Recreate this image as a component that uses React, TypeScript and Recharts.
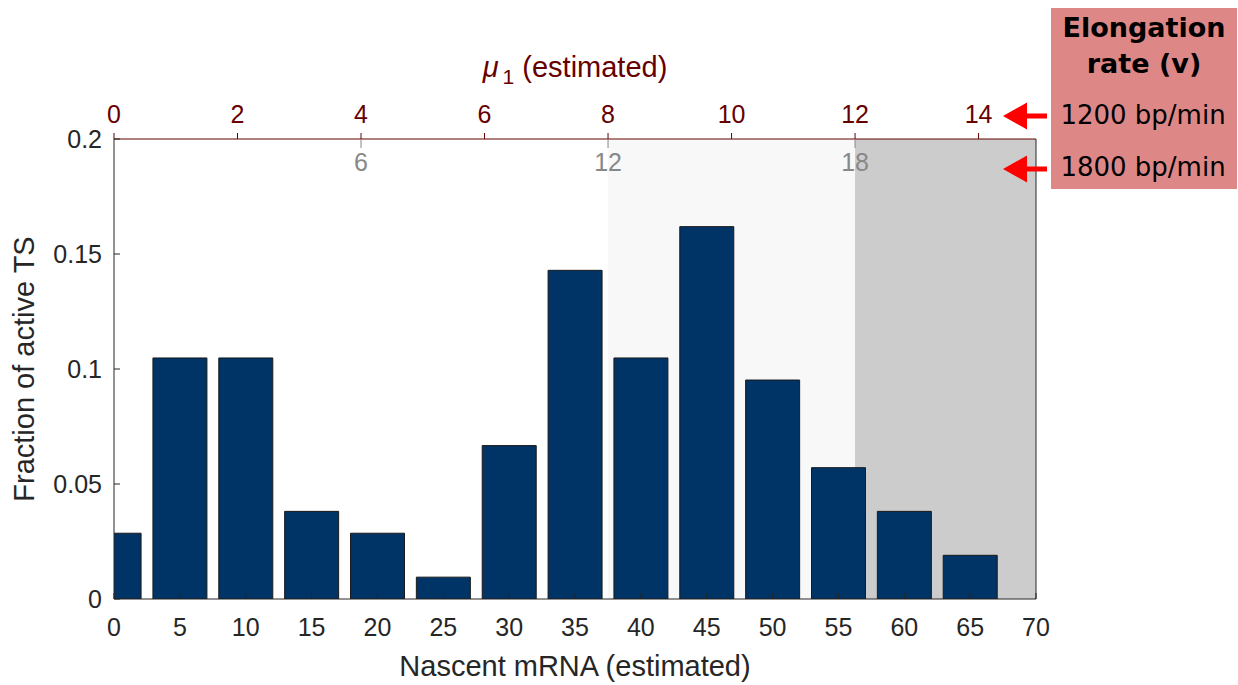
import React from 'react';
import { ComposedChart, Bar, XAxis, YAxis, ReferenceArea, ReferenceLine } from 'recharts';

// nascent mRNA bins (bar centres) and fraction of active TS in each
const nascentBins = [0, 5, 10, 15, 20, 25, 30, 35, 40, 45, 50, 55, 60, 65, 70];
const fractionTS = [0.0286, 0.1048, 0.1048, 0.0381, 0.0286, 0.0095, 0.0667, 0.1429, 0.1048, 0.1619, 0.0952, 0.0571, 0.0381, 0.019, 0];

const nascentTicks = [0, 5, 10, 15, 20, 25, 30, 35, 40, 45, 50, 55, 60, 65, 70];
const fractionTicks = [0, 0.05, 0.1, 0.15, 0.2];
const mu1Ticks = [0, 2, 4, 6, 8, 10, 12, 14];
const mu1At1800Ticks = [6, 12, 18];

// µ1 at the right end of the 0-70 nascent axis (1200 bp/min)
const MU1_MAX = 14.93;
// µ1 scales with elongation rate: 1800 / 1200
const RATE_RATIO = 1.5;

// shaded µ1 bands (light: 8-12, dark: 12 onwards)
const lightBand = [8, 12];
const darkBandStart = 12;

const DARK_RED = '#660000';
const AXIS_GREY = '#262626';
const TICK_GREY = '#888888';
const FS = 25;

const data = nascentBins.map((n, i) => ({ n, frac: fractionTS[i] }));

// top axis: µ1 ticks above the line, 1800 bp/min equivalents hanging below it
const MuTick = (props: any) => {
    const { x, y, payload } = props;
    const v = payload.value;
    const lineY = y + 16;
    const grey = mu1At1800Ticks.find((g) => Math.abs(g / RATE_RATIO - v) < 1e-6);
    if (!mu1Ticks.includes(v)) return <g />;
    return (
        <g>
            <line x1={x} y1={lineY} x2={x} y2={lineY - 6} stroke={DARK_RED} />
            <text x={x} y={y} textAnchor="middle" fill={DARK_RED} fontSize={FS}>{v}</text>
            {grey !== undefined && (
                <g>
                    <line x1={x} y1={lineY} x2={x} y2={lineY + 9} stroke={TICK_GREY} />
                    <text x={x} y={lineY + 32} textAnchor="middle" fill={TICK_GREY} fontSize={FS}>{grey}</text>
                </g>
            )}
        </g>
    );
};

const BottomTick = (props: any) => {
    const { x, y, payload } = props;
    const axisY = y - 19;
    return (
        <g>
            <line x1={x} y1={axisY} x2={x} y2={axisY - 6} stroke={AXIS_GREY} />
            <text x={x} y={y} dy="0.71em" textAnchor="middle" fill={AXIS_GREY} fontSize={FS}>{payload.value}</text>
        </g>
    );
};

const LeftTick = (props: any) => {
    const { x, y, payload } = props;
    const axisX = x + 12;
    return (
        <g>
            <line x1={axisX} y1={y} x2={axisX + 6} y2={y} stroke={AXIS_GREY} />
            <text x={x} y={y} dy="0.36em" textAnchor="end" fill={AXIS_GREY} fontSize={FS}>{String(payload.value)}</text>
        </g>
    );
};

const MuTitle = (props: any) => {
    const { x, y, width } = props.viewBox;
    return (
        <text x={x + width / 2} y={y + 57} textAnchor="middle" fill={DARK_RED} fontSize={29}>
            <tspan fontStyle="italic">μ</tspan>
            <tspan dx={4} dy={7} fontSize={21}>1</tspan>
            <tspan dy={-7}> (estimated)</tspan>
        </text>
    );
};

const XTitle = (props: any) => {
    const { x, y, width } = props.viewBox;
    return (
        <text x={x + width / 2} y={y + 77} textAnchor="middle" fill={AXIS_GREY} fontSize={29}>
            Nascent mRNA (estimated)
        </text>
    );
};

const YTitle = (props: any) => {
    const { x, y, height } = props.viewBox;
    const cx = x + 20;
    const cy = y + height / 2;
    return (
        <text x={cx} y={cy} transform={`rotate(-90 ${cx} ${cy})`} textAnchor="middle" fill={AXIS_GREY} fontSize={29}>
            Fraction of active TS
        </text>
    );
};

const Arrow = ({ y }: { y: number }) => (
    <g fill="#ff0000">
        <polygon points={`1003,${y} 1027,${y - 13.5} 1027,${y + 13.5}`} />
        <rect x={1025} y={y - 2.5} width={22} height={5} />
    </g>
);

export default function App() {
    return (
        <div style={{ position: 'absolute', left: 0, top: 0, width: 1238, height: 685, fontFamily: '"Liberation Sans", Arial, sans-serif', background: '#fff' }}>
            <ComposedChart width={1238} height={685} data={data} margin={{ top: 20, right: 202, bottom: 0, left: 14 }}>
                <XAxis
                    xAxisId="n"
                    dataKey="n"
                    type="number"
                    domain={[0, 70]}
                    ticks={nascentTicks}
                    allowDataOverflow
                    height={86}
                    tickSize={0}
                    tickMargin={19}
                    tickLine={false}
                    stroke={AXIS_GREY}
                    tick={BottomTick}
                    label={XTitle}
                />
                {/* no data column for µ1: the axis takes its range from the domain only */}
                <XAxis
                    xAxisId="mu"
                    dataKey="mu1"
                    orientation="top"
                    type="number"
                    domain={[0, MU1_MAX]}
                    ticks={[...mu1Ticks, MU1_MAX]}
                    allowDataOverflow
                    interval={0}
                    height={119}
                    tickSize={6}
                    tickMargin={10}
                    tickLine={false}
                    stroke={DARK_RED}
                    tick={MuTick}
                    label={MuTitle}
                />
                <YAxis
                    type="number"
                    domain={[0, 0.2]}
                    ticks={fractionTicks}
                    allowDataOverflow
                    width={100}
                    tickSize={0}
                    tickMargin={12}
                    tickLine={false}
                    stroke={AXIS_GREY}
                    tick={LeftTick}
                    label={YTitle}
                />
                <ReferenceArea xAxisId="mu" x1={lightBand[0]} x2={lightBand[1]} fill="#f8f8f8" fillOpacity={1} stroke="none" />
                <ReferenceArea xAxisId="mu" x1={darkBandStart} fill="#cccccc" fillOpacity={1} stroke="none" />
                <Bar xAxisId="n" dataKey="frac" barSize={54} fill="#003366" stroke="#1a1a1a" strokeWidth={1} isAnimationActive={false} />
                <ReferenceLine xAxisId="n" x={70} stroke={AXIS_GREY} />
            </ComposedChart>
            <svg width={1238} height={685} style={{ position: 'absolute', left: 0, top: 0, pointerEvents: 'none' }}>
                <rect x={1051} y={8} width={186} height={181} fill="#de8787" />
                <g fill="#000" fontFamily='"DejaVu Sans", Verdana, sans-serif' textAnchor="middle">
                    <text x={1144} y={37} fontSize={27} fontWeight="bold">Elongation</text>
                    <text x={1144} y={73} fontSize={27} fontWeight="bold">rate (v)</text>
                    <text x={1143} y={124} fontSize={26}>1200 bp/min</text>
                    <text x={1143} y={176} fontSize={26}>1800 bp/min</text>
                </g>
                <Arrow y={116} />
                <Arrow y={169} />
            </svg>
        </div>
    );
}
